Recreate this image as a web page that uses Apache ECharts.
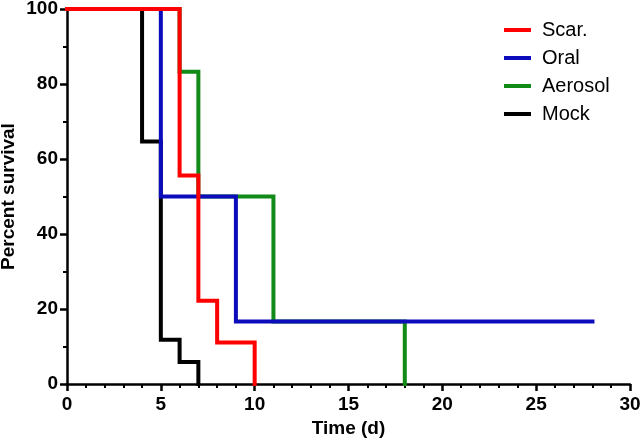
<!DOCTYPE html>
<html>
<head>
<meta charset="utf-8">
<script src="https://cdn.jsdelivr.net/npm/echarts@6/dist/echarts.min.js"></script>
<style>html,body{margin:0;padding:0;background:#fff;}#c{width:640px;height:443px;}</style>
</head>
<body>
<div id="c"></div>
<script>
// Kaplan-Meier step data: [time (d), percent survival]
const seriesNames = ['Scar.', 'Oral', 'Aerosol', 'Mock'];
const scarData = [[0, 100], [6, 55.6], [7, 22.2], [8, 11.1], [10, 0]];
const oralData = [[0, 100], [5, 50], [9, 16.7], [28, 16.7]];
const aerosolData = [[0, 100], [6, 83.3], [7, 50], [11, 16.7], [18, 0]];
const mockData = [[0, 100], [4, 64.7], [5, 11.8], [6, 5.9], [7, 0]];
const seriesColors = ['#ff0000', '#0c0cbc', '#118a18', '#000000'];
const xTicks = [0, 5, 10, 15, 20, 25, 30];
const yTicks = [0, 20, 40, 60, 80, 100];

const allData = [scarData, oralData, aerosolData, mockData];
const chart = echarts.init(document.getElementById('c'), null, {renderer: 'canvas'});
const font = 'Liberation Sans, Arial, sans-serif';

chart.setOption({
  animation: false,
  backgroundColor: '#fff',
  grid: {left: 67, right: 10, top: 9, bottom: 59, containLabel: false, outerBoundsMode: 'none'},
  legend: {
    data: seriesNames,
    orient: 'vertical',
    left: 499,
    top: 15,
    itemWidth: 27,
    itemHeight: 4,
    itemGap: 8,
    icon: 'rect',
    textStyle: {fontFamily: font, fontSize: 20, color: '#000', padding: [0, 0, 0, 6]},
    selectedMode: false
  },
  xAxis: {
    type: 'value',
    min: xTicks[0],
    max: xTicks[xTicks.length - 1],
    interval: 5,
    name: 'Time (d)',
    nameLocation: 'middle',
    nameGap: 35,
    nameMoveOverlap: false,
    nameTextStyle: {fontFamily: font, fontSize: 19, fontWeight: 'bold', color: '#000'},
    axisLine: {show: true, onZero: false, lineStyle: {color: '#000', width: 2.5}},
    axisTick: {show: true, length: 7, inside: false, lineStyle: {color: '#000', width: 2.5}},
    minorTick: {show: true, splitNumber: 5, length: 4, lineStyle: {color: '#000', width: 2}},
    axisLabel: {fontFamily: font, fontSize: 19, fontWeight: 'bold', color: '#000', margin: 11},
    splitLine: {show: false}
  },
  yAxis: {
    type: 'value',
    min: yTicks[0],
    max: yTicks[yTicks.length - 1],
    interval: 20,
    name: 'Percent survival',
    nameLocation: 'middle',
    nameGap: 49,
    nameMoveOverlap: false,
    nameTextStyle: {fontFamily: font, fontSize: 19, fontWeight: 'bold', color: '#000'},
    axisLine: {show: true, onZero: false, lineStyle: {color: '#000', width: 2.5}},
    axisTick: {show: true, length: 7, inside: false, lineStyle: {color: '#000', width: 2.5}},
    minorTick: {show: true, splitNumber: 2, length: 4, lineStyle: {color: '#000', width: 2}},
    axisLabel: {fontFamily: font, fontSize: 19, fontWeight: 'bold', color: '#000', margin: 9},
    splitLine: {show: false}
  },
  series: seriesNames.map((n, i) => ({
    name: n,
    type: 'line',
    step: 'end',
    data: allData[i],
    showSymbol: false,
    symbol: 'none',
    color: seriesColors[i],
    lineStyle: {color: seriesColors[i], width: 4, cap: 'square', join: 'miter'},
    z: 10 - i,
    clip: false
  }))
});
</script>
</body>
</html>
